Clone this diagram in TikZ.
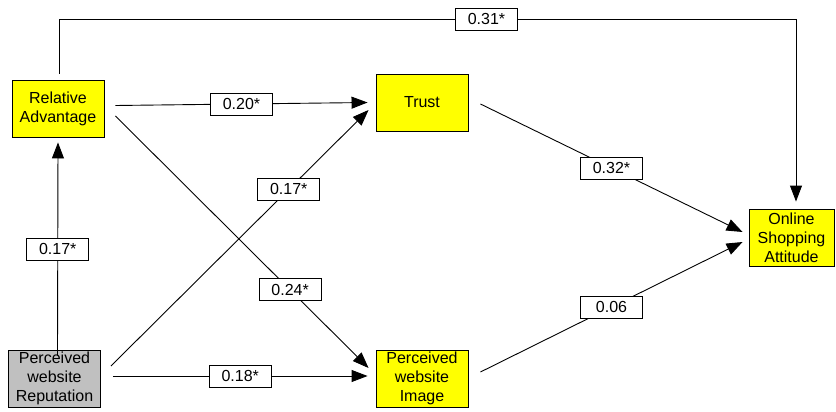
\documentclass[tikz,border=0pt]{standalone}
\usepackage{fontspec}
\setmainfont{Liberation Sans}
\usepackage{tikz}
\usetikzlibrary{arrows.meta,positioning}
\definecolor{myellow}{HTML}{FFFF00}
\definecolor{mgray}{HTML}{C0C0C0}
\tikzset{
  construct/.style={draw=black,line width=0.9pt,fill=myellow,align=center,inner sep=0pt,
    minimum width=92pt,minimum height=57pt,font=\fontsize{16}{19}\selectfont},
  exog/.style={construct,fill=mgray},
  lbl/.style={draw=black,line width=0.9pt,fill=white,inner sep=0pt,
    minimum width=62pt,minimum height=22pt,font=\fontsize{16}{19}\selectfont},
  arr/.style={-{Triangle[length=16pt,width=12pt]},line width=0.9pt,black},
}
\begin{document}
\begin{tikzpicture}[x=1pt,y=-1pt]
    \useasboundingbox (0,0) rectangle (836,412);
    % constructs
    \node[construct] (ra) at (58,108.5) {Relative\\Advantage};
    \node[construct] (trust) at (422,102.5) {Trust};
    \node[exog] (rep) at (54.5,378.5) {Perceived\\website\\Reputation};
    \node[construct] (img) at (422,378.5) {Perceived\\website\\Image};
    \node[construct,minimum width=85pt] (osa) at (791.5,237.5) {Online\\Shopping\\Attitude};
    % paths
    \draw[arr] ([xshift=3pt,yshift=-6pt]rep.north) -- node[lbl,midway]{0.17*} ([yshift=-5pt]ra.south);
    \draw[arr] ([xshift=11pt,yshift=3pt]ra.east) -- node[lbl,midway]{0.20*} ([xshift=-8pt]trust.west);
    \draw[arr] ([xshift=11pt,yshift=-7.5pt]ra.east) -- node[lbl,pos=0.69]{0.24*} ([xshift=-7pt,yshift=10.5pt]img.west);
    \draw[arr] ([xshift=10pt,yshift=12.5pt]rep.east) -- node[lbl,pos=0.69]{0.17*} ([xshift=-7pt,yshift=-7.5pt]trust.west);
    \draw[arr] ([xshift=12pt,yshift=2.5pt]rep.east) -- node[lbl,midway]{0.18*} ([xshift=-8pt,yshift=2.5pt]img.west);
    \draw[arr] ([xshift=12pt,yshift=-1.5pt]trust.east) -- node[lbl,midway]{0.32*} ([xshift=-6pt,yshift=5.5pt]osa.west);
    \draw[arr] ([xshift=12pt,yshift=6.5pt]img.east) -- node[lbl,midway]{0.06} ([xshift=-6pt,yshift=-4.5pt]osa.west);
    % direct path over the top
    \draw[arr] ([xshift=1pt,yshift=6pt]ra.north) -- ([xshift=1pt]ra.north |- 0,19)
      -- node[lbl,pos=0.58]{0.31*} ([xshift=4.5pt]osa.north |- 0,19) -- ([xshift=4.5pt,yshift=7pt]osa.north);
\end{tikzpicture}
\end{document}
